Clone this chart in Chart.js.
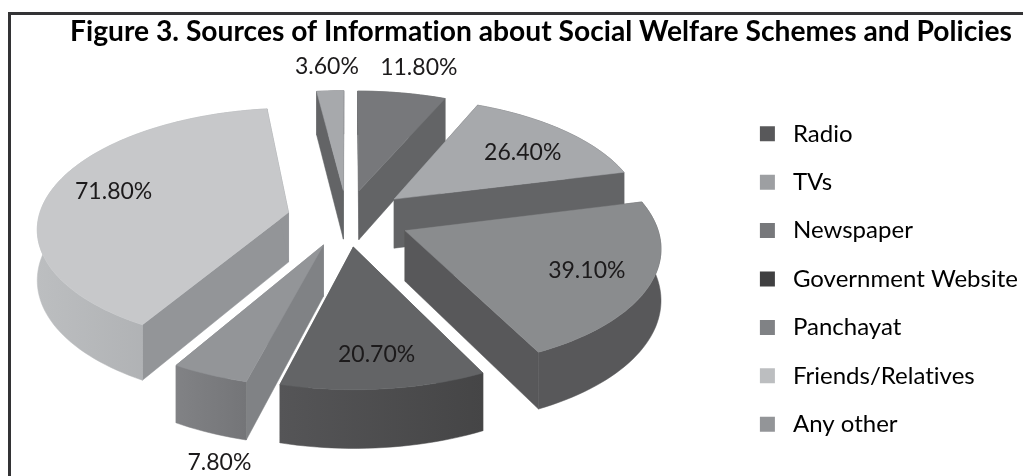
<!DOCTYPE html>
<html>
<head>
<meta charset="utf-8">
<title>Sources of Information</title>
<style>
  html, body { margin: 0; padding: 0; background: #fff; }
  canvas { display: block; }
</style>
<script src="https://cdn.jsdelivr.net/npm/chart.js@4"></script>
</head>
<body>
<canvas id="sources" width="1023" height="476"></canvas>
<script>
const categories = ['Radio', 'TVs', 'Newspaper', 'Government Website', 'Panchayat', 'Friends/Relatives', 'Any other'];
const values = [11.8, 26.4, 39.1, 20.7, 7.8, 71.8, 3.6];

const legendColors = ['#58585a', '#9d9fa2', '#77787b', '#404041', '#808285', '#bcbec0', '#939598'];
const topColors = ['#77787b', '#a7a9ac', '#8a8c8e', '#636466', '#939598', '#c7c8ca', '#a7a9ac'];
const sideColors = ['#636466', '#636466', '#58585a', '#4a4a4b', '#808285', '#939598', '#636466'];
const wallFrom = ['#636466', '#636466', '#58585a', '#555557', '#818285', '#bcbec0', '#636466'];
const wallTo = ['#636466', '#636466', '#58585a', '#454546', '#747578', '#a3a5a8', '#636466'];

// explosion of each slice in pixels, and where its % label sits
const explode = [60, 63, 63, 60, 60, 60, 60];
const labelRadius = [326, 224, 264, 290, 533, 240, 322];
const labelTurn = [1, 2, 0, 0, -8.6, 2, 0];

const pieX = 347, pieY = 218;
const squash = 0.472, persp = 0.12, depth = 50;

// plane point (u, v in pixels) to screen, with a little perspective towards the viewer
function project(u, v, z, R) {
  const w = 1 - persp * v / R;
  return { x: pieX + u / w, y: pieY + squash * v / w + z / w };
}

function tracePath(ctx, pts) {
  ctx.beginPath();
  pts.forEach((p, i) => i ? ctx.lineTo(p.x, p.y) : ctx.moveTo(p.x, p.y));
  ctx.closePath();
}

function fillFace(ctx, pts, color) {
  tracePath(ctx, pts);
  ctx.fillStyle = color;
  ctx.strokeStyle = color;
  ctx.lineWidth = 0.5;
  ctx.fill();
  ctx.stroke();
}

const pie3d = {
  id: 'pie3d',
  beforeDraw(chart) {
    // open frame: only left and top rules
    const ctx = chart.ctx;
    ctx.letterSpacing = '0.01px'; // keeps "ti" from joining up in Lato
    ctx.save();
    ctx.fillStyle = '#333335';
    ctx.fillRect(8, 12, 1015, 3);
    ctx.fillRect(8, 12, 3, 464);
    ctx.restore();
  },
  afterLayout(chart) {
    chart.legend.left = 735.5;
    chart.legend.top += 41;
    chart.legend.bottom += 41;
  },
  beforeDatasetsDraw(chart) {
    const ctx = chart.ctx;
    const arcs = chart.getDatasetMeta(0).data;

    const slices = arcs.map((arc, i) => {
      const { startAngle, endAngle, outerRadius } = arc.getProps(['startAngle', 'endAngle', 'outerRadius'], true);
      const mid = (startAngle + endAngle) / 2;
      const ex = Math.cos(mid) * arc.options.offset;
      const ey = Math.sin(mid) * arc.options.offset;
      const rim = [];
      const steps = Math.max(4, Math.ceil((endAngle - startAngle) / 0.03));
      for (let s = 0; s <= steps; s++) {
        const a = startAngle + (endAngle - startAngle) * s / steps;
        rim.push([ex + Math.cos(a) * outerRadius, ey + Math.sin(a) * outerRadius]);
      }
      return { i, rim, ex, ey, R: outerRadius, sortY: Math.sin(mid) };
    });

    // paint back to front so the near slices cover the far ones
    slices.sort((a, b) => a.sortY - b.sortY).forEach(s => {
      const top = s.rim.map(p => project(p[0], p[1], 0, s.R));
      const low = s.rim.map(p => project(p[0], p[1], depth, s.R));
      const apexTop = project(s.ex, s.ey, 0, s.R);
      const apexLow = project(s.ex, s.ey, depth, s.R);
      const last = top.length - 1;

      fillFace(ctx, [apexTop, top[0], low[0], apexLow], sideColors[s.i]);
      fillFace(ctx, [apexTop, top[last], low[last], apexLow], sideColors[s.i]);

      const xs = top.map(p => p.x);
      const grad = ctx.createLinearGradient(Math.min(...xs), 0, Math.max(...xs), 0);
      grad.addColorStop(0, wallFrom[s.i]);
      grad.addColorStop(1, wallTo[s.i]);
      fillFace(ctx, top.concat(low.slice().reverse()), grad);

      fillFace(ctx, [apexTop].concat(top), arcs[s.i].options.backgroundColor);
    });
    return false;
  },
  afterDraw(chart) {
    const ctx = chart.ctx;
    ctx.save();
    ctx.font = '23px Lato';
    ctx.fillStyle = '#1c1a1b';
    ctx.textAlign = 'center';
    ctx.textBaseline = 'middle';
    chart.getDatasetMeta(0).data.forEach((arc, i) => {
      const a = (arc.startAngle + arc.endAngle) / 2 + labelTurn[i] * Math.PI / 180;
      const r = labelRadius[i];
      const x = pieX + Math.cos(a) * r;
      const y = pieY + squash * Math.sin(a) * r;
      ctx.fillText(values[i].toFixed(2) + '%', x, y);
    });
    ctx.restore();
  }
};

new Chart(document.getElementById('sources'), {
  type: 'pie',
  data: {
    labels: categories,
    datasets: [{
      data: values,
      backgroundColor: topColors,
      offset: explode,
      borderWidth: 0
    }]
  },
  options: {
    responsive: false,
    animation: false,
    radius: 250,
    layout: { padding: { left: 59, right: 0, top: 0, bottom: 0 } },
    plugins: {
      title: {
        display: true,
        text: 'Figure 3. Sources of Information about Social Welfare Schemes and Policies',
        color: '#000',
        font: { family: 'Lato', size: 28.2, weight: 'bold' },
        padding: { top: 15, bottom: 8 }
      },
      tooltip: { enabled: false },
      legend: {
        position: 'right',
        labels: {
          color: '#231f20',
          font: { family: 'Lato', size: 24 },
          boxWidth: 15,
          boxHeight: 15,
          padding: 24.4,
          generateLabels: () => categories.map((name, i) => ({
            text: '\u2009\u2009' + name,
            fillStyle: legendColors[i],
            strokeStyle: legendColors[i],
            lineWidth: 0,
            index: i
          }))
        }
      }
    }
  },
  plugins: [pie3d]
});
</script>
</body>
</html>
